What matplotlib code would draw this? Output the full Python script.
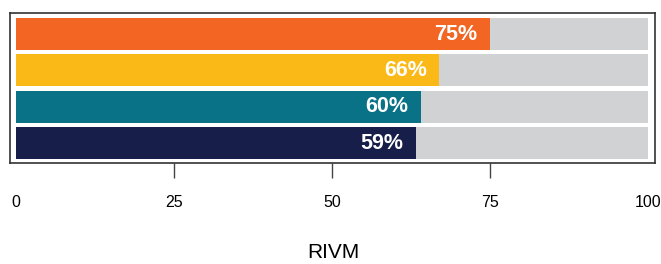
import matplotlib
matplotlib.use("Agg")
import matplotlib.pyplot as plt

plt.rcParams['font.family'] = ['Liberation Sans', 'DejaVu Sans']

# data, top bar first
bar_values = [75, 67, 64, 63.3]
bar_labels = ['75%', '66%', '60%', '59%']
bar_colors = ['#F26522', '#FBB917', '#0A7286', '#171E4A']
full = 100
tick_values = [0, 25, 50, 75, 100]
xlabel = 'RIVM'

fig = plt.figure(figsize=(6.61, 2.64), dpi=100)
W, H = 661, 264
# axes box in pixels: left 10, right 655, top 13, bottom 163
ax = fig.add_axes([10 / W, 1 - 163 / H, 645 / W, 150 / H])

n = len(bar_values)
ypos = list(range(n - 1, -1, -1))
ax.barh(ypos, [full] * n, height=0.88, color='#D1D2D4', left=0)
ax.barh(ypos, bar_values, height=0.88, color=bar_colors, left=0)
for y, v, lab in zip(ypos, bar_values, bar_labels):
    ax.text(v - 2.0, y, lab, ha='right', va='center', color='white',
            fontsize=15.5, fontweight='bold')

ax.set_xlim(-0.95, 101.1)
ax.set_ylim(-0.55, 3.58)
ax.set_yticks([])
ax.set_xticks(tick_values)
ax.set_xticklabels([str(t) for t in tick_values], fontsize=11.5)
ax.tick_params(axis='x', length=11, width=1, color='#444444', pad=12)
ticks = ax.xaxis.get_major_ticks()
ticks[0].tick1line.set_visible(False)
ticks[-1].tick1line.set_visible(False)
for s in ax.spines.values():
    s.set_color('#333333')
    s.set_linewidth(1.2)

fig.text(333 / W, 1 - 253 / H, xlabel, ha='center', va='center', fontsize=15)

fig.savefig('out.png', dpi=100)
